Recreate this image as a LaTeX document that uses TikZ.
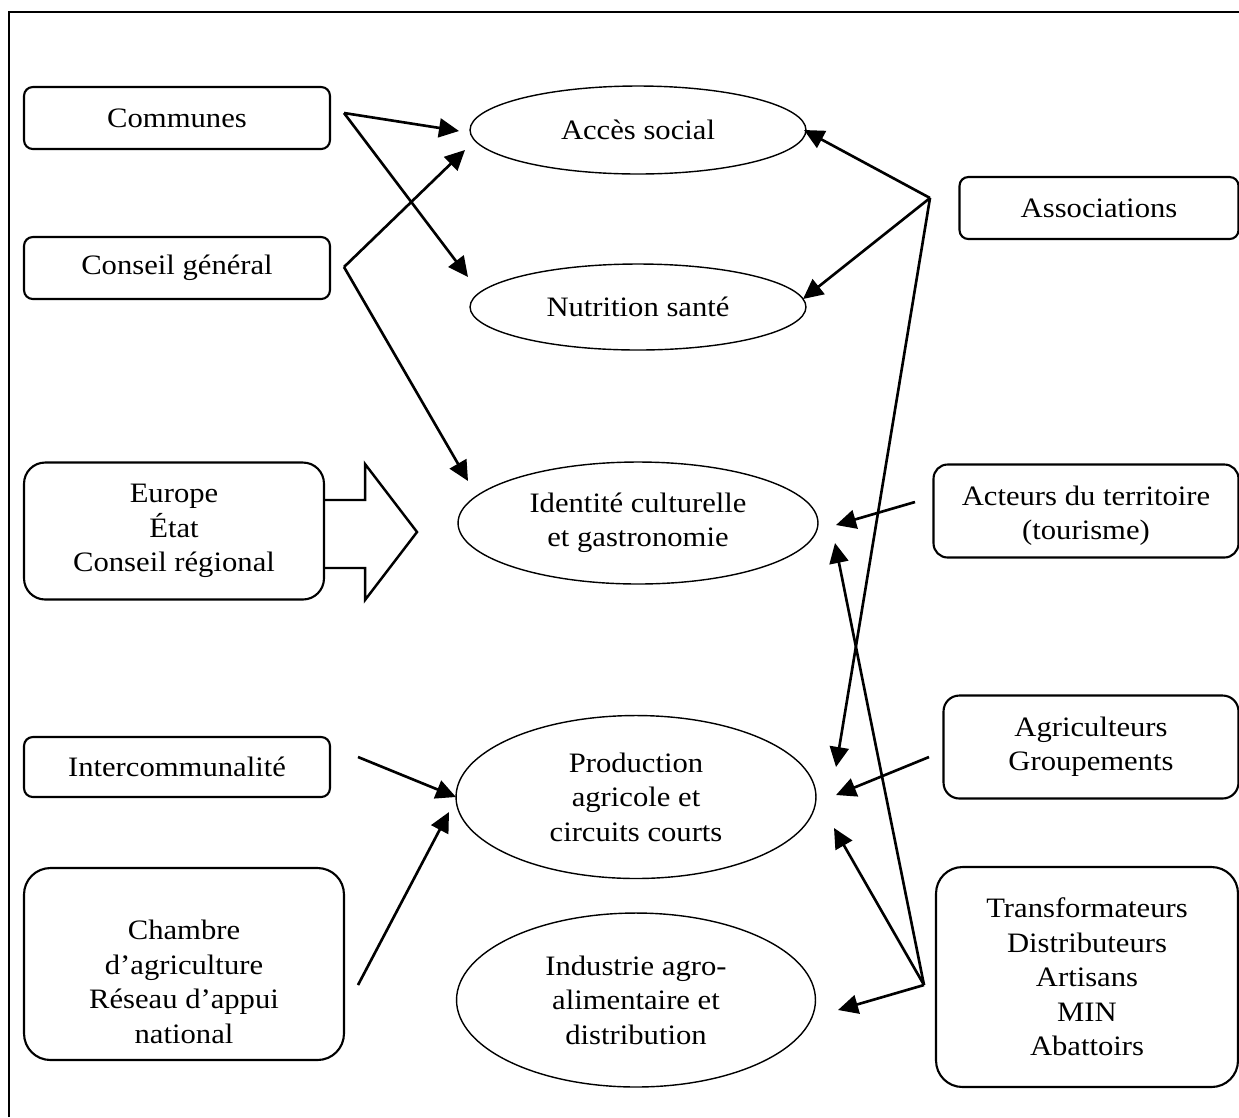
\documentclass[tikz,border=0pt]{standalone}
\usepackage{fontspec}
\setmainfont[FakeStretch=1.09]{Liberation Serif}
\usepackage{tikz}
\usetikzlibrary{arrows.meta,calc,shapes.geometric}
\definecolor{MapInk}{HTML}{000000}
\tikzset{
  every node/.style={font=\fontsize{16}{19.6}\selectfont, text=MapInk, align=center},
  actor/.style={draw=MapInk, line width=1.2pt, rounded corners=#1, inner sep=0pt},
  actor/.default=5pt,
  issue/.style={ellipse, draw=MapInk, line width=0.8pt, inner sep=0pt},
  link/.style={-{Triangle[length=0.4cm,width=0.38cm]}, draw=MapInk, line width=1.5pt},
  bigarrow/.style={draw=MapInk, line width=1.4pt, line join=miter},
}

\begin{document}
\begin{tikzpicture}[x=0.02cm,y=-0.02cm]
  % one unit = one pixel of the 1239 x 1117 sheet, y runs downwards
  \useasboundingbox (0,0) rectangle (1239,1117);
  \draw[MapInk, line width=1.2pt] (9,1117) |- (1239,12);

  % issues (centre column)
  \node[issue, minimum width=6.72cm, minimum height=1.76cm] (acces) at (638,130) {Accès social};
  \node[issue, minimum width=6.72cm, minimum height=1.72cm] (nutrition) at (638,307) {Nutrition santé};
  \node[issue, minimum width=7.2cm, minimum height=2.44cm] (identite) at (638,523) {Identité culturelle\\et gastronomie};
  \node[issue, minimum width=7.2cm, minimum height=3.26cm] (production) at (636,797) {Production\\agricole et\\circuits courts};
  \node[issue, minimum width=7.18cm, minimum height=3.48cm] (industrie) at (636,1000) {Industrie agro-\\alimentaire et\\distribution};

  % actors, left column
  \node[actor, minimum width=6.12cm, minimum height=1.24cm] (communes) at (177,118) {Communes};
  \node[actor, minimum width=6.12cm, minimum height=1.24cm] (conseilgen) at (177,268) {Conseil général};
  \node[actor=12pt, minimum width=6.0cm, minimum height=2.74cm] (europe) at (174,531) {Europe\\État\\Conseil régional};
  \draw[bigarrow] ($(europe.east)+(0,-31)$) -- ++(40,0) -- ++(0,-36)
    -- ++(52,68) -- ++(-52,68) -- ++(0,-32) -- ++(-40,0);
  \node[actor, minimum width=6.12cm, minimum height=1.2cm] (interco) at (177,767) {Intercommunalité};
  \node[actor=15pt, minimum width=6.4cm, minimum height=3.84cm] (chambre) at (184,964) {};
  \node (chambre-text) at ($(chambre.center)+(0,18)$) {Chambre\\d’agriculture\\Réseau d’appui\\national};

  % actors, right column
  \node[actor, minimum width=5.58cm, minimum height=1.24cm] (assoc) at (1099,208) {Associations};
  \node[actor=8pt, minimum width=6.1cm, minimum height=1.86cm] (acteurs) at (1086,511) {};
  \node (acteurs-text) at ($(acteurs.center)+(0,5)$) {Acteurs du territoire\\(tourisme)};
  \node[actor=9pt, minimum width=5.9cm, minimum height=2.06cm] (agri) at (1091,747) {Agriculteurs\\Groupements};
  \node[actor=15pt, minimum width=6.04cm, minimum height=4.4cm] (transfo) at (1087,977) {Transformateurs\\Distributeurs\\Artisans\\MIN\\Abattoirs};

  % where the links leave the actors
  \coordinate (communes-out) at (344,113);
  \coordinate (conseil-out) at (344,267);
  \coordinate (interco-out) at (358,757);
  \coordinate (chambre-out) at (358,985);
  \coordinate (assoc-out) at (930,198);
  \coordinate (acteurs-out) at (915,502);
  \coordinate (agri-out) at (929,757);
  \coordinate (transfo-out) at (924,985);

  % where the links stop, just short of the issues
  \coordinate (acces-w1) at (459,131);
  \coordinate (acces-w2) at (465,150);
  \coordinate (acces-e) at (804,130);
  \coordinate (nutrition-w) at (468,277);
  \coordinate (nutrition-e) at (803,299);
  \coordinate (identite-w) at (468,481);
  \coordinate (identite-e1) at (836,525);
  \coordinate (identite-e2) at (835,543);
  \coordinate (production-w1) at (456,797);
  \coordinate (production-w2) at (449,812);
  \coordinate (production-e1) at (836,767);
  \coordinate (production-e2) at (836,795);
  \coordinate (production-e3) at (834,828);
  \coordinate (industrie-e) at (838,1010);

  \draw[link] (communes-out) -- (acces-w1);
  \draw[link] (communes-out) -- (nutrition-w);
  \draw[link] (conseil-out) -- (acces-w2);
  \draw[link] (conseil-out) -- (identite-w);
  \draw[link] (interco-out) -- (production-w1);
  \draw[link] (chambre-out) -- (production-w2);
  \draw[link] (assoc-out) -- (acces-e);
  \draw[link] (assoc-out) -- (nutrition-e);
  \draw[link] (assoc-out) -- (production-e1);
  \draw[link] (acteurs-out) -- (identite-e1);
  \draw[link] (agri-out) -- (production-e2);
  \draw[link] (transfo-out) -- (identite-e2);
  \draw[link] (transfo-out) -- (production-e3);
  \draw[link] (transfo-out) -- (industrie-e);
\end{tikzpicture}
\end{document}
